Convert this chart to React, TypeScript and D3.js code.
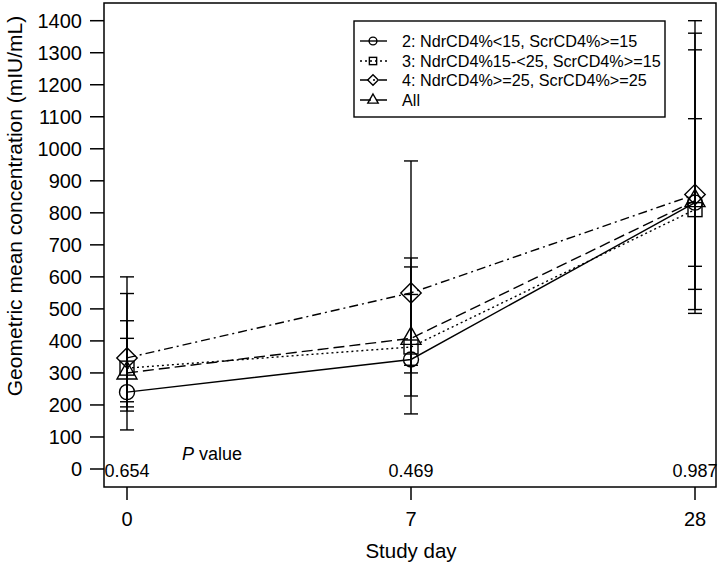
import React from "react";
import * as d3 from "d3";

const days = ["0", "7", "28"];
const pValues = ["0.654", "0.469", "0.987"];
const yTicks = [0, 100, 200, 300, 400, 500, 600, 700, 800, 900, 1000, 1100, 1200, 1300, 1400];

const seriesNames = [
  "2: NdrCD4%<15, ScrCD4%>=15",
  "3: NdrCD4%15-<25, ScrCD4%>=15",
  "4: NdrCD4%>=25, ScrCD4%>=25",
  "All",
];
const seriesShapes = ["circle", "square", "diamond", "triangle"];
const seriesDash = ["none", "2,3", "9,4,2,4", "11,5"];

const g2Mean = [240, 342, 832];
const g2Lower = [122, 172, 498];
const g2Upper = [463, 659, 1400];

const g3Mean = [315, 381, 810];
const g3Lower = [181, 228, 486];
const g3Upper = [548, 631, 1361];

const g4Mean = [347, 550, 857];
const g4Lower = [194, 324, 561];
const g4Upper = [600, 962, 1309];

const allMean = [300, 408, 838];
const allLower = [210, 300, 633];
const allUpper = [408, 545, 1094];

const means = [g2Mean, g3Mean, g4Mean, allMean];
const lowers = [g2Lower, g3Lower, g4Lower, allLower];
const uppers = [g2Upper, g3Upper, g4Upper, allUpper];

const FONT = "'Liberation Sans', Arial, sans-serif";

function Marker({ shape, x, y, s }: { shape: string; x: number; y: number; s: number }) {
  const common = { fill: "none", stroke: "#000", strokeWidth: 1.4 };
  if (shape === "circle") return <circle cx={x} cy={y} r={s * 0.75} {...common} />;
  if (shape === "square") {
    const h = s * 0.7;
    return <rect x={x - h} y={y - h} width={2 * h} height={2 * h} {...common} />;
  }
  if (shape === "diamond") {
    const h = s * 1.02;
    return <path d={`M${x},${y - h}L${x + h},${y}L${x},${y + h}L${x - h},${y}Z`} {...common} />;
  }
  const w = s * 1.0;
  return <path d={`M${x},${y - s * 1.15}L${x + w},${y + s * 0.6}L${x - w},${y + s * 0.6}Z`} {...common} />;
}

export default function App() {
  const W = 720, H = 569;
  const left = 104, right = 716, top = 3, bottom = 487;
  const x = d3.scalePoint<string>().domain(days).range([127, 695]);
  const y = d3.scaleLinear().domain([0, 1400]).range([469, 20.7]);
  const line = d3.line<[number, number]>().x((d) => d[0]).y((d) => d[1]);

  const legendRows = [41, 61, 80, 100];

  return (
    <svg width={W} height={H} style={{ position: "absolute", left: 0, top: 0, background: "#fff" }} fontFamily={FONT}>
      <rect x={0} y={0} width={W} height={H} fill="#fff" />
      {/* plot box */}
      <rect x={left} y={top} width={right - left} height={bottom - top} fill="none" stroke="#000" strokeWidth={1.5} />
      {/* y axis */}
      {yTicks.map((t) => (
        <g key={t}>
          <line x1={90} x2={left} y1={y(t)} y2={y(t)} stroke="#000" strokeWidth={1.5} />
          <text x={82} y={y(t)} dy="0.36em" textAnchor="end" fontSize={20}>{t}</text>
        </g>
      ))}
      {/* x axis */}
      {days.map((d) => (
        <g key={d}>
          <line x1={x(d)} x2={x(d)} y1={bottom} y2={bottom + 13} stroke="#000" strokeWidth={1.5} />
          <text x={x(d)} y={526} textAnchor="middle" fontSize={20}>{d}</text>
        </g>
      ))}
      <text x={411} y={558} textAnchor="middle" fontSize={20.5}>Study day</text>
      <text transform="translate(22,206) rotate(-90)" textAnchor="middle" fontSize={21}>
        Geometric mean concentration (mIU/mL)
      </text>
      {/* p values */}
      <text x={212} y={460} textAnchor="middle" fontSize={18}>
        <tspan fontStyle="italic">P</tspan> value
      </text>
      {days.map((d, i) => (
        <text key={"p" + d} x={x(d)} y={477} textAnchor="middle" fontSize={18}>{pValues[i]}</text>
      ))}
      {/* error bars */}
      {means.map((m, si) =>
        days.map((d, i) => (
          <g key={`eb${si}-${i}`}>
            <line x1={x(d)} x2={x(d)} y1={y(lowers[si][i])} y2={y(uppers[si][i])} stroke="#000" strokeWidth={1.4} />
            <line x1={x(d)! - 7} x2={x(d)! + 7} y1={y(lowers[si][i])} y2={y(lowers[si][i])} stroke="#000" strokeWidth={1.4} />
            <line x1={x(d)! - 7} x2={x(d)! + 7} y1={y(uppers[si][i])} y2={y(uppers[si][i])} stroke="#000" strokeWidth={1.4} />
          </g>
        ))
      )}
      {/* lines */}
      {means.map((m, si) => (
        <path
          key={"l" + si}
          d={line(days.map((d, i) => [x(d)!, y(m[i])]))!}
          fill="none"
          stroke="#000"
          strokeWidth={1.4}
          strokeDasharray={seriesDash[si] === "none" ? undefined : seriesDash[si]}
        />
      ))}
      {/* markers */}
      {means.map((m, si) =>
        days.map((d, i) => <Marker key={`m${si}-${i}`} shape={seriesShapes[si]} x={x(d)!} y={y(m[i])} s={10} />)
      )}
      {/* legend */}
      <rect x={354} y={21} width={311} height={96} fill="#fff" stroke="#000" strokeWidth={1.4} />
      {seriesNames.map((name, si) => (
        <g key={"lg" + si}>
          <line
            x1={360}
            x2={387}
            y1={legendRows[si]}
            y2={legendRows[si]}
            stroke="#000"
            strokeWidth={1.4}
            strokeDasharray={seriesDash[si] === "none" ? undefined : seriesDash[si]}
          />
          <Marker shape={seriesShapes[si]} x={373} y={legendRows[si]} s={5.2} />
          <text x={402} y={legendRows[si]} dy="0.36em" fontSize={16.2}>{name}</text>
        </g>
      ))}
    </svg>
  );
}
